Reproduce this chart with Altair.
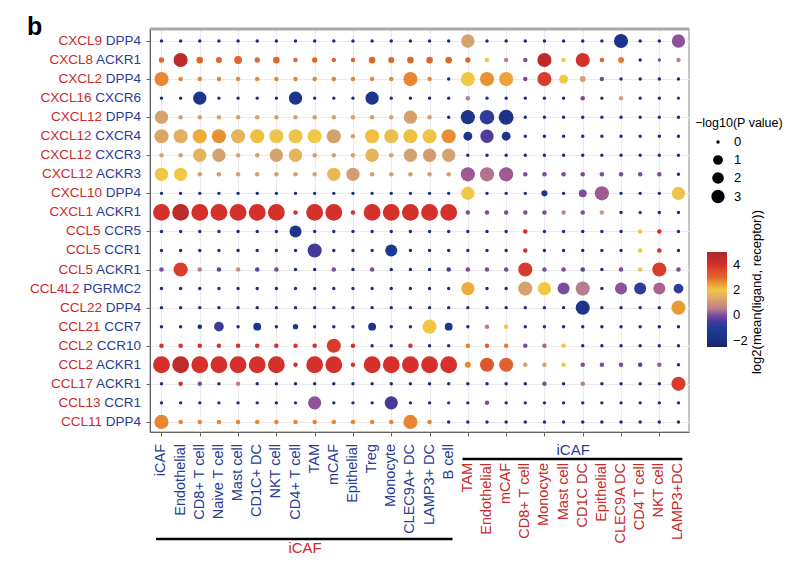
import altair as alt
import pandas as pd

# ---------------- data ----------------
ligands = ["CXCL9", "CXCL8", "CXCL2", "CXCL16", "CXCL12", "CXCL12", "CXCL12", "CXCL12",
           "CXCL10", "CXCL1", "CCL5", "CCL5", "CCL5", "CCL4L2", "CCL22", "CCL21",
           "CCL2", "CCL2", "CCL17", "CCL13", "CCL11"]
receptors = ["DPP4", "ACKR1", "DPP4", "CXCR6", "DPP4", "CXCR4", "CXCR3", "ACKR3",
             "DPP4", "ACKR1", "CCR5", "CCR1", "ACKR1", "PGRMC2", "DPP4", "CCR7",
             "CCR10", "ACKR1", "ACKR1", "CCR1", "DPP4"]
left_cells = ["iCAF", "Endothelial", "CD8+ T cell", "Naive T cell", "Mast cell", "CD1C+ DC",
              "NKT cell", "CD4+ T cell", "TAM", "mCAF", "Epithelial", "Treg", "Monocyte",
              "CLEC9A+ DC", "LAMP3+ DC", "B cell"]
right_cells = ["TAM", "Endothelial", "mCAF", "CD8+ T cell", "Monocyte", "Mast cell",
               "CD1C DC", "Epithelial", "CLEC9A DC", "CD4 T cell", "NKT cell", "LAMP3+DC"]
left_group = "iCAF"
right_group = "iCAF"

N = -2.0
# log2(mean(ligand, receptor)), one row per pair, 16 left + 12 right columns
mean_lr = [
    [N, N, N, N, N, N, N, N, N, N, N, N, N, N, N, N, 1.2, N, N, N, N, N, N, N, -1.6, N, N, 0.1],
    [3.0, 4.6, 3.0, 3.0, 3.0, 3.0, 3.0, 3.0, 3.0, 3.0, 3.0, 3.0, 3.0, 3.0, 3.0, 3.0, 3.0, 2.0, 0.6, 0.0, 4.6, 2.0, 4.0, 3.0, 2.8, N, 0.0, 0.6],
    [2.7, 2.7, 2.7, 2.7, 2.7, 2.7, 2.7, 2.7, 2.7, 2.7, 2.7, 2.7, 2.7, 2.7, 2.7, N, 2.0, 2.6, 2.4, 0.0, 3.8, 2.0, 1.2, 0.0, N, N, N, N],
    [N, N, -1.5, N, N, N, N, -1.5, N, N, N, -1.5, N, N, N, N, 0.5, N, N, N, N, N, 0.0, N, 1.2, N, N, -0.5],
    [1.2, 1.2, 1.2, 1.2, 1.2, 1.2, 1.2, 1.2, 1.2, 1.2, 1.2, 1.2, 1.2, 1.2, 1.2, N, -1.6, -0.8, -1.7, N, N, N, N, N, N, N, N, N],
    [1.3, 1.5, 2.3, 2.6, 1.6, 2.1, 1.9, 1.9, 2.0, 1.2, 1.2, 2.1, 1.8, 2.1, 1.9, 2.6, -1.5, -0.4, -1.5, N, N, N, N, N, N, N, N, N],
    [1.2, 1.2, 1.6, 1.2, 1.2, 1.2, 1.2, 1.6, 1.2, 1.2, 1.2, 1.6, 1.2, 1.2, 1.1, 1.2, N, N, N, N, N, N, N, N, N, N, N, N],
    [2.0, 2.0, 1.2, 1.2, 1.2, 1.2, 1.2, 1.2, 1.2, 1.7, 1.1, 1.2, 1.2, 1.2, 1.2, 1.2, 0.2, 0.4, 0.2, 0.0, 0.0, 0.0, 0.0, 0.0, 0.0, 0.0, 0.0, N],
    [N, N, N, N, N, N, N, N, N, N, N, N, N, N, N, N, 2.0, N, N, N, -1.5, N, 0.0, 0.2, N, N, N, 1.9],
    [4.0, 4.6, 4.0, 4.0, 4.0, 4.0, 4.0, 4.0, 4.0, 4.0, 4.0, 4.0, 4.0, 4.0, 4.0, 4.0, 0.0, 0.0, 0.0, 0.0, 0.0, 0.6, 0.0, 1.0, N, -1.0, N, N],
    [N, N, N, N, N, N, N, -1.6, N, N, N, N, N, N, N, N, N, N, N, 4.0, N, N, N, N, N, 2.0, 4.0, N],
    [N, N, N, N, N, N, N, N, -0.5, N, N, N, -1.3, N, N, N, N, N, N, 4.0, N, N, N, N, N, 2.0, 4.0, N],
    [0.0, 3.8, 0.5, -0.3, 0.8, -0.3, 0.0, N, N, 0.0, N, 0.0, N, N, N, -0.5, 0.0, 0.0, 0.0, 3.8, 0.0, 0.0, -0.3, N, 0.0, 2.0, 3.8, 0.0],
    [N, N, N, N, N, N, N, N, N, N, N, N, N, N, N, N, 2.3, N, N, 1.2, 2.0, 0.0, 0.5, N, 0.1, -0.8, 0.3, -0.8],
    [N, N, N, N, N, N, N, N, N, N, N, N, N, N, N, N, N, N, N, N, N, N, -1.6, N, N, N, N, 2.5],
    [N, N, N, -0.6, N, -1.5, N, -1.6, N, N, N, -1.5, N, N, 2.0, -1.5, N, 0.5, 2.0, N, N, N, N, N, N, N, N, N],
    [4.0, 4.0, 4.0, 4.0, 4.0, 4.0, 4.0, 4.0, 4.0, 3.8, 4.0, N, N, 4.0, N, N, 2.8, 3.2, 2.8, 0.0, 0.3, 2.0, N, N, N, N, N, N],
    [4.0, 4.5, 4.0, 4.0, 4.0, 4.0, 4.0, 4.0, 4.0, 4.0, 4.0, 4.0, 4.0, 4.0, 4.0, 4.0, 2.7, 3.3, 3.1, 1.2, 1.2, 2.0, 0.0, 0.0, 0.0, -0.3, 0.2, N],
    [N, 4.0, 0.0, N, 0.6, N, N, N, N, N, N, N, N, N, N, N, N, N, N, N, 0.0, N, 0.5, N, N, N, N, 3.8],
    [N, N, N, N, N, N, N, N, 0.1, N, N, N, -0.5, N, N, -1.0, N, 0.0, N, N, N, N, N, N, N, N, N, N],
    [2.7, 2.7, 2.7, 2.7, 2.7, 2.7, 2.7, 2.7, 2.7, 2.7, 2.7, 2.7, 2.7, 2.7, 2.7, N, N, N, N, N, N, N, N, N, N, N, N, N],
]
# -log10(P value)
neg_log_p = [
    [0, 0, 0, 0, 0, 0, 0, 0, 0, 0, 0, 0, 0, 0, 0, 0, 3.0, 0, 0, 0, 0, 0, 0, 0, 3.4, 0, 0, 3.0],
    [0.2, 3.4, 0.4, 0.3, 0.6, 0.2, 0.4, 0.1, 0.2, 0.1, 0.1, 0.4, 0.3, 0.4, 0.4, 0.4, 0.2, 0.1, 0.1, 0.1, 3.4, 0.1, 3.4, 0.1, 0.3, 0, 0, 0.1],
    [3.4, 0.1, 0.1, 0.1, 0.1, 0.1, 0.1, 0.1, 0.1, 0.1, 0.1, 0.1, 0.1, 3.4, 0.1, 0, 3.4, 3.4, 3.4, 0.1, 3.4, 0.8, 0.3, 0.1, 0, 0, 0, 0],
    [0, 0, 3.0, 0, 0, 0, 0, 3.0, 0, 0, 0, 3.0, 0, 0, 0, 0, 0.1, 0, 0, 0, 0, 0, 0.1, 0, 0.1, 0, 0, 0],
    [3.0, 0.1, 0.1, 0.1, 0.1, 0.1, 0.1, 0.1, 0.1, 0.1, 0.1, 0.1, 0.1, 3.0, 0.1, 0, 3.4, 3.6, 3.8, 0, 0, 0, 0, 0, 0, 0, 0, 0],
    [3.4, 3.4, 3.4, 3.4, 3.4, 3.4, 3.4, 3.4, 3.4, 3.4, 0.1, 3.4, 3.4, 3.4, 3.4, 3.4, 0.8, 3.0, 0.8, 0, 0, 0, 0, 0, 0, 0, 0, 0],
    [0.1, 0.1, 3.0, 3.0, 0.1, 0.1, 3.0, 3.0, 0.1, 0.1, 0.1, 3.0, 0.1, 3.0, 3.0, 3.0, 0, 0, 0, 0, 0, 0, 0, 0, 0, 0, 0, 0],
    [3.0, 3.0, 0.1, 0.1, 0.1, 0.1, 0.1, 0.1, 0.1, 3.0, 3.0, 0.1, 0.1, 0.1, 0.1, 0.1, 3.4, 3.4, 3.4, 0.1, 0.1, 0.1, 0.1, 0.1, 0.1, 0.1, 0.1, 0],
    [0, 0, 0, 0, 0, 0, 0, 0, 0, 0, 0, 0, 0, 0, 0, 0, 3.0, 0, 0, 0, 0.3, 0, 0.6, 3.4, 0, 0, 0, 3.0],
    [4.9, 4.9, 4.9, 4.9, 4.9, 4.9, 4.9, 0.1, 4.9, 4.9, 0.1, 4.9, 4.9, 4.9, 4.9, 4.9, 0.1, 0.1, 0.1, 0.1, 0.1, 0.1, 0.1, 0.1, 0, 0, 0, 0],
    [0, 0, 0, 0, 0, 0, 0, 2.2, 0, 0, 0, 0, 0, 0, 0, 0, 0, 0, 0, 0.1, 0, 0, 0, 0, 0, 0.1, 0.1, 0],
    [0, 0, 0, 0, 0, 0, 0, 0, 3.4, 0, 0, 0, 2.2, 0, 0, 0, 0, 0, 0, 0.1, 0, 0, 0, 0, 0, 0.1, 0.1, 0],
    [0.1, 3.4, 0.1, 0.1, 0.1, 0.1, 0.1, 0, 0, 0.1, 0, 0.1, 0, 0, 0, 0.1, 0.1, 0.1, 0.1, 3.4, 0.1, 0.1, 0.1, 0, 0.1, 0.1, 3.4, 0.1],
    [0, 0, 0, 0, 0, 0, 0, 0, 0, 0, 0, 0, 0, 0, 0, 0, 3.0, 0, 0, 3.4, 3.0, 2.2, 3.4, 0, 2.2, 2.2, 2.2, 1.0],
    [0, 0, 0, 0, 0, 0, 0, 0, 0, 0, 0, 0, 0, 0, 0, 0, 0, 0, 0, 0, 0, 0, 3.4, 0, 0, 0, 0, 3.4],
    [0, 0, 0.1, 1.0, 0, 0.6, 0, 0.2, 0, 0, 0, 0.6, 0, 0, 3.4, 0.6, 0, 0.1, 0.1, 0, 0, 0, 0, 0, 0, 0, 0, 0],
    [0.1, 0.1, 0.1, 0.1, 0.1, 0.1, 0.1, 0.1, 0.1, 3.4, 0.1, 0, 0, 0.1, 0, 0, 0.1, 0.1, 0.1, 0.1, 0.1, 0.1, 0, 0, 0, 0, 0, 0],
    [4.9, 4.9, 4.9, 4.9, 4.9, 4.9, 4.9, 0.1, 4.9, 4.9, 0.1, 4.9, 4.9, 4.9, 4.9, 4.9, 0.3, 3.4, 3.4, 0.1, 0.1, 0.1, 0.1, 0.1, 0.1, 0.1, 0.1, 0],
    [0, 0.1, 0.1, 0, 0.1, 0, 0, 0, 0, 0, 0, 0, 0, 0, 0, 0, 0, 0, 0, 0, 0.1, 0, 0.1, 0, 0, 0, 0, 3.4],
    [0, 0, 0, 0, 0, 0, 0, 0, 3.0, 0, 0, 0, 3.0, 0, 0, 0, 0, 0.1, 0, 0, 0, 0, 0, 0, 0, 0, 0, 0],
    [3.4, 0.1, 0.1, 0.1, 0.1, 0.1, 0.1, 0.1, 0.1, 0.1, 0.1, 0.1, 0.1, 3.4, 0.1, 0, 0, 0, 0, 0, 0, 0, 0, 0, 0, 0, 0, 0],
]

color_stops = [-2.5, -2.0, -1.0, -0.5, 0.0, 0.5, 1.2, 2.0, 2.5, 3.0, 4.0, 5.0]
color_range = ["#1d2452", "#1b2f80", "#1d3c98", "#45399a", "#7b4b9f", "#b67f8e",
               "#d4a26c", "#f0c843", "#eb9a38", "#e2652e", "#d5302b", "#a9282a"]

# ---------------- tables ----------------
cells = left_cells + right_cells
n_left = len(left_cells)
pts = pd.DataFrame([
    {"row": i, "col": j, "value": mean_lr[i][j], "p": neg_log_p[i][j]}
    for i in range(len(ligands)) for j in range(len(cells))
])
ylab = pd.DataFrame({"row": list(range(len(ligands))), "ligand": ligands, "receptor": receptors})
ylab["full"] = ylab["ligand"] + " " + ylab["receptor"]
xlab = pd.DataFrame({"col": list(range(len(cells))), "label": cells,
                     "side": ["L"] * n_left + ["R"] * len(right_cells)})
groups = pd.DataFrame({
    "side": ["L", "R"],
    "x0": [-0.28, n_left - 0.28],
    "x1": [n_left - 1 + 0.2, len(cells) - 1 + 0.2],
    "mid": [(n_left - 1) / 2, n_left + (len(right_cells) - 1) / 2],
    "name": [left_group, right_group],
})

W, H = 539, 403
FONT = "Liberation Sans"
RED = "#c92a2a"
BLUE = "#283c96"

xs = alt.Scale(domain=[-0.6, len(cells) - 1 + 0.55], nice=False, zero=False)
ys = alt.Scale(domain=[-0.63, len(ligands) - 1 + 0.53], nice=False, zero=False, reverse=True)

points = alt.Chart(pts).mark_circle(opacity=1).encode(
    x=alt.X("col:Q", scale=xs, title=None,
            axis=alt.Axis(values=list(range(len(cells))), labels=False, ticks=True, tickSize=4,
                          grid=True, gridColor="#ebebeb", gridWidth=1.2,
                          domainColor="#666666", tickColor="#666666")),
    y=alt.Y("row:Q", scale=ys, title=None,
            axis=alt.Axis(values=list(range(len(ligands))), labels=False, ticks=True, tickSize=4,
                          grid=True, gridColor="#ebebeb", gridWidth=1.2,
                          domainColor="#666666", tickColor="#666666")),
    color=alt.Color("value:Q", scale=alt.Scale(domain=color_stops, range=color_range),
                    legend=alt.Legend(orient="none", legendX=557, legendY=223, title=None,
                                      direction="vertical", gradientLength=95,
                                      gradientThickness=20, values=[-2, 0, 2, 4],
                                      labelFontSize=13, labelFont=FONT, labelColor="black",
                                      labelOffset=6)),
    size=alt.Size("p:Q", scale=alt.Scale(domain=[0, 1, 3, 5], range=[12, 95, 177, 290]),
                  legend=alt.Legend(orient="none", legendX=545, legendY=88,
                                    title="\u2212log10(P value)", values=[0, 1, 2, 3],
                                    titleFont=FONT, titleFontSize=12.5, titleFontWeight="normal",
                                    titleColor="black", titlePadding=6, titleLimit=200,
                                    labelFont=FONT, labelFontSize=13, labelColor="black",
                                    symbolType="circle", symbolFillColor="black",
                                    symbolStrokeWidth=0, symbolOpacity=1, symbolOffset=16,
                                    rowPadding=4, labelOffset=9)),
)

top_line = alt.Chart(groups.head(1)).mark_rule(color="#aaaaaa", strokeWidth=3).encode(
    x=alt.value(0), x2=alt.value(W), y=alt.value(0))

y_red = alt.Chart(ylab).mark_text(align="right", baseline="middle", font=FONT, fontSize=13.5,
                                  color=RED).encode(
    x=alt.value(-9), y=alt.Y("row:Q", scale=ys), text="full:N")
y_erase = alt.Chart(ylab).mark_text(align="right", baseline="middle", font=FONT, fontSize=13.5,
                                    color="white", stroke="white", strokeWidth=1.6).encode(
    x=alt.value(-9), y=alt.Y("row:Q", scale=ys), text="receptor:N")
y_blue = alt.Chart(ylab).mark_text(align="right", baseline="middle", font=FONT, fontSize=13.5,
                                   color=BLUE).encode(
    x=alt.value(-9), y=alt.Y("row:Q", scale=ys), text="receptor:N")

x_left = alt.Chart(xlab).transform_filter("datum.side == 'L'").mark_text(
    angle=270, align="right", baseline="middle", font=FONT, fontSize=14.5, color=BLUE).encode(
    x=alt.X("col:Q", scale=xs, title=None), y=alt.value(H + 12), text="label:N")
x_right = alt.Chart(xlab).transform_filter("datum.side == 'R'").mark_text(
    angle=270, align="right", baseline="middle", font=FONT, fontSize=14.5, color=RED).encode(
    x=alt.X("col:Q", scale=xs, title=None), y=alt.value(H + 31), text="label:N")

line_left = alt.Chart(groups).transform_filter("datum.side == 'L'").mark_rule(
    color="black", strokeWidth=2.5).encode(
    x=alt.X("x0:Q", scale=xs, title=None), x2="x1:Q", y=alt.value(H + 107))
line_right = alt.Chart(groups).transform_filter("datum.side == 'R'").mark_rule(
    color="black", strokeWidth=2.5).encode(
    x=alt.X("x0:Q", scale=xs, title=None), x2="x1:Q", y=alt.value(H + 27))
name_left = alt.Chart(groups).transform_filter("datum.side == 'L'").mark_text(
    font=FONT, fontSize=15, color=RED, baseline="alphabetic").encode(
    x=alt.X("mid:Q", scale=xs, title=None), y=alt.value(H + 121), text="name:N")
name_right = alt.Chart(groups).transform_filter("datum.side == 'R'").mark_text(
    font=FONT, fontSize=15, color=BLUE, baseline="middle").encode(
    x=alt.X("mid:Q", scale=xs, title=None), y=alt.value(H + 18), text="name:N")

panel = alt.Chart(pd.DataFrame({"t": ["b"]})).mark_text(
    font=FONT, fontSize=25, fontWeight="bold", align="left", baseline="alphabetic",
    color="black").encode(x=alt.value(-123), y=alt.value(6), text="t:N")

ctitle = alt.Chart(pd.DataFrame({"t": ["log2(mean(ligand, receptor))"]})).mark_text(
    font=FONT, fontSize=13, angle=270, align="center", baseline="middle",
    color="black").encode(x=alt.value(607), y=alt.value(263), text="t:N")

chart = alt.layer(
    points, top_line, y_red, y_erase, y_blue, x_left, x_right,
    line_left, line_right, name_left, name_right, panel, ctitle
).properties(
    width=W, height=H,
    autosize=alt.AutoSizeParams(type="none"),
    padding={"left": 142, "top": 21, "right": 95, "bottom": 126},
).configure_view(stroke="#b0b0b0", strokeWidth=1.5).resolve_scale(color="independent")

chart.save("out.html", embed_options={"renderer": "svg", "actions": False})
